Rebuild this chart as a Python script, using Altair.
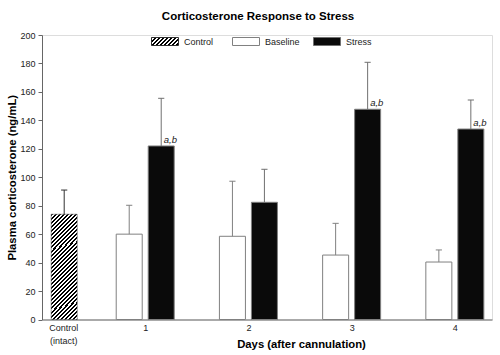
import altair as alt
import pandas as pd

# ---- data ----
groups = ["Control (intact)", "1", "2", "3", "4"]
series = ["Control", "Baseline", "Stress"]
control_mean = [74.0]
control_err = [17.0]
baseline_mean = [60.0, 58.5, 45.3, 40.4]
baseline_err = [20.3, 38.7, 22.3, 8.5]
stress_mean = [122.0, 82.4, 147.8, 133.9]
stress_err = [33.5, 23.2, 33.0, 20.4]
stress_sig = ["a,b", "", "a,b", "a,b"]

rows = [dict(group=groups[0], idx=0, series="Control", mean=control_mean[0],
             err=control_err[0], sig="")]
for i, g in enumerate(groups[1:]):
    rows.append(dict(group=g, idx=i + 1, series="Baseline", mean=baseline_mean[i],
                     err=baseline_err[i], sig=""))
    rows.append(dict(group=g, idx=i + 1, series="Stress", mean=stress_mean[i],
                     err=stress_err[i], sig=stress_sig[i]))
df = pd.DataFrame(rows)

FONT = "Liberation Sans"


def stripe_stops(n):
    stops = []
    for k in range(n):
        a = k / n
        m = (k + 0.5) / n
        b = (k + 1) / n
        stops += [
            {"offset": a, "color": "#000000"},
            {"offset": m, "color": "#000000"},
            {"offset": m, "color": "#ffffff"},
            {"offset": b, "color": "#ffffff"},
        ]
    return stops


bar_hatch = {"gradient": "linear", "x1": 0, "y1": 0, "x2": 0.3, "y2": 1.2,
             "stops": stripe_stops(33)}

legend_stops = ",".join(
    "{offset:%g,color:'%s'}" % (s["offset"], s["color"]) for s in stripe_stops(9)
)
legend_hatch_expr = ("{gradient:'linear',x1:0,y1:0,x2:1.2,y2:0.356,stops:[%s]}"
                     % legend_stops)

base = alt.Chart(df).transform_calculate(
    center="datum.idx + (datum.series == 'Control' ? 0.215 : "
           "(datum.series == 'Baseline' ? -0.155 : 0.155))",
).transform_calculate(
    x0="datum.center - 0.126",
    x1="datum.center + 0.126",
    c0="datum.center - 0.03",
    c1="datum.center + 0.03",
    top="datum.mean + datum.err",
)

xscale = alt.Scale(domain=[0, 4.36], nice=False, zero=False)
yscale = alt.Scale(domain=[0, 200], nice=False)

x_axis = alt.Axis(
    values=[0.205, 1, 2, 3, 4],
    labelExpr="datum.value < 0.5 ? ['Control', '(intact)'] : format(datum.value, 'd')",
    ticks=False, grid=False,
    labelFont=FONT, labelFontSize=9, labelColor="#222222", labelPadding=4,
    labelLineHeight=13, labelAlign="center", labelOverlap=False,
    domainColor="#666666", domainWidth=1,
    title="Days (after cannulation)", titleFont=FONT, titleFontSize=11.3,
    titleFontWeight="bold", titleColor="#000000",
    titleX=259, titleY=28, titleBaseline="alphabetic", titleAlign="center",
)
y_axis = alt.Axis(
    values=list(range(0, 201, 20)), grid=False, labelOverlap=False,
    tickSize=4, tickColor="#666666", domainColor="#666666",
    labelFont=FONT, labelFontSize=9, labelColor="#222222", labelPadding=3,
    title="Plasma corticosterone (ng/mL)", titleFont=FONT, titleFontSize=11.3,
    titleFontWeight="bold", titleColor="#000000", titlePadding=2,
)

bars = base.transform_filter("datum.series != 'Control'").mark_bar(
    stroke="#808080", strokeWidth=1
).encode(
    x=alt.X("x0:Q", scale=xscale, axis=x_axis),
    x2="x1:Q",
    y=alt.Y("mean:Q", scale=yscale, axis=y_axis),
    y2=alt.datum(0),
    fill=alt.Fill(
        "series:N",
        scale=alt.Scale(domain=series,
                        range=[{"expr": legend_hatch_expr}, "#ffffff", "#0a0a0a"]),
        legend=alt.Legend(
            title=None, orient="none", legendX=109, legendY=-7.5,
            direction="horizontal", columns=3, gridAlign="all",
            symbolType="M-1,-0.296H1V0.296H-1Z", symbolSize=729,
            symbolStrokeColor="#808080", symbolStrokeWidth=1,
            labelFont=FONT, labelFontSize=9, labelColor="#222222",
            labelOffset=5, columnPadding=11, padding=0,
        ),
    ),
)

control_bar = base.transform_filter("datum.series == 'Control'").mark_bar(
    fill=bar_hatch, stroke="#404040", strokeWidth=0.5
).encode(
    x=alt.X("x0:Q", scale=xscale, axis=x_axis),
    x2="x1:Q",
    y=alt.Y("mean:Q", scale=yscale, axis=y_axis),
    y2=alt.datum(0),
)

err_color = alt.Stroke(
    "series:N",
    scale=alt.Scale(domain=series, range=["#303030", "#808080", "#707070"]),
    legend=None,
)

err_line = base.mark_rule(strokeWidth=1).encode(
    x=alt.X("center:Q", scale=xscale, axis=x_axis),
    y=alt.Y("mean:Q", scale=yscale, axis=y_axis),
    y2="top:Q",
    stroke=err_color,
)

err_cap = base.mark_rule(strokeWidth=1).encode(
    x=alt.X("c0:Q", scale=xscale, axis=x_axis),
    x2="c1:Q",
    y=alt.Y("top:Q", scale=yscale, axis=y_axis),
    stroke=err_color,
)

sig_text = base.transform_filter("datum.sig != ''").mark_text(
    align="left", baseline="alphabetic", dx=2.5, dy=-3,
    font=FONT, fontSize=9.5, fontStyle="italic", color="#222222",
).encode(
    x=alt.X("center:Q", scale=xscale, axis=x_axis),
    y=alt.Y("mean:Q", scale=yscale, axis=y_axis),
    text="sig:N",
)

chart = alt.layer(bars, control_bar, err_line, err_cap, sig_text).properties(
    width=450, height=284.5,
    title=alt.TitleParams(
        "Corticosterone Response to Stress", font=FONT, fontSize=11.5,
        fontWeight="bold", color="#000000", anchor="middle", dx=-9, dy=13,
        offset=9, baseline="alphabetic",
    ),
    autosize=alt.AutoSizeParams(type="none"),
    padding={"left": 42, "top": 35, "right": 8, "bottom": 35.5},
).configure_view(stroke=None).configure(background="#ffffff")

chart.save("out.html", embed_options={"renderer": "svg", "actions": False})
